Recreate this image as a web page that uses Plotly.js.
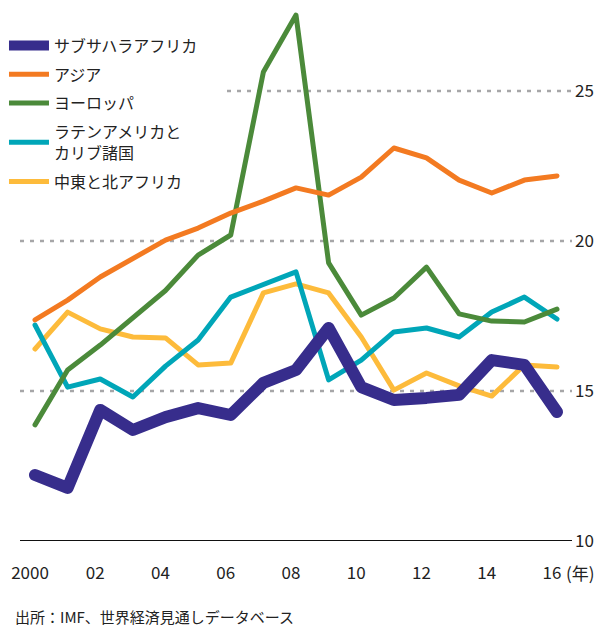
<!DOCTYPE html>
<html>
<head>
<meta charset="utf-8">
<script src="https://cdn.plot.ly/plotly-3.0.1.min.js"></script>
<style>
html,body{margin:0;padding:0;background:#fff;}
#chart{width:598px;height:629px;}
#chart .scatterlayer path.js-line{stroke-linecap:round !important;stroke-linejoin:round !important;}
</style>
</head>
<body>
<div id="chart"></div>
<script>
const years = [2000,2001,2002,2003,2004,2005,2006,2007,2008,2009,2010,2011,2012,2013,2014,2015,2016];
const tickLabels = ["2000","02","04","06","08","10","12","14","16"];
const tickYears = [2000,2002,2004,2006,2008,2010,2012,2014,2016];

const seriesNames = ["サブサハラアフリカ","アジア","ヨーロッパ","ラテンアメリカと<br>カリブ諸国","中東と北アフリカ"];
const subSaharan = [12.2,11.77,14.37,13.7,14.13,14.43,14.2,15.27,15.7,17.1,15.13,14.7,14.77,14.87,16.03,15.87,14.3];
const asia       = [17.37,18.03,18.8,19.4,20.03,20.43,20.93,21.33,21.77,21.53,22.13,23.1,22.77,22.03,21.6,22.03,22.17];
const europe     = [13.87,15.7,16.53,17.43,18.35,19.53,20.2,25.63,27.53,19.27,17.53,18.1,19.13,17.57,17.33,17.3,17.73];
const latinAm    = [17.2,15.13,15.4,14.8,15.83,16.7,18.13,18.53,18.97,15.37,16.03,16.97,17.1,16.8,17.63,18.13,17.4];
const mena       = [16.4,17.63,17.07,16.8,16.77,15.87,15.93,18.27,18.57,18.27,16.8,15.03,15.6,15.17,14.83,15.87,15.8];

const yTicks = [10,15,20,25];
const gridValues = [15,20,25];

const font = "'Noto Sans CJK JP', 'Noto Sans', sans-serif";

function tr(name, y, color, width, rank){
  return {x: years, y: y, name: name, type: 'scatter', mode: 'lines', legendrank: rank,
          legendgroup: 'g' + rank,
          line: {color: color, width: width, shape: 'linear'}, hoverinfo: 'skip'};
}

const data = [
  tr(seriesNames[4], mena, '#fdbb3b', 5, 5),
  tr(seriesNames[3], latinAm, '#00a6b8', 5, 4),
  tr(seriesNames[2], europe, '#4b8a3a', 5, 3),
  tr(seriesNames[1], asia, '#f37a21', 5, 2),
  tr(seriesNames[0], subSaharan, '#372d8c', 12, 1)
];

const shapes = gridValues.map(v => ({
  type: 'line', xref: 'paper', yref: 'y',
  x0: v === 25 ? 0.375 : 0, x1: 1, y0: v, y1: v,
  line: {color: '#a6a6a8', width: 2.5, dash: '4px,6px'}, layer: 'below'
}));
shapes.push({type:'line', xref:'paper', yref:'y', x0:0, x1:1, y0:10, y1:10,
  line:{color:'#111', width:2}});

const layout = {
  width: 598, height: 629,
  margin: {l: 20, r: 26, t: 10, b: 88, autoexpand: false},
  paper_bgcolor: '#fff', plot_bgcolor: '#fff',
  font: {family: font, color: '#222', size: 16},
  showlegend: true,
  legend: {
    traceorder: 'grouped', x: -0.029, y: 0.965, xref: 'paper', yref: 'paper',
    xanchor: 'left', yanchor: 'top', bgcolor: 'rgba(0,0,0,0)',
    font: {family: font, size: 16, color: '#222'}, itemwidth: 40, tracegroupgap: 5
  },
  xaxis: {
    range: [1999.54, 2016.46], showgrid: false, zeroline: false, showline: false,
    tickmode: 'array', tickvals: tickYears, ticktext: tickLabels,
    ticks: '', ticklabelstandoff: 20, ticklabelshift: -5,
    tickfont: {family: font, size: 17, color: '#222'}
  },
  yaxis: {
    range: [10, 27.7], side: 'right', showgrid: false, zeroline: false, showline: false,
    tickmode: 'array', tickvals: yTicks, ticktext: yTicks.map(String),
    ticks: '', ticklabelstandoff: 2,
    tickfont: {family: font, size: 17, color: '#222'}
  },
  shapes: shapes,
  annotations: [
    {text: '(年)', xref: 'paper', yref: 'paper', x: 1.045, y: -0.06, xanchor: 'right', yanchor: 'middle',
     showarrow: false, font: {family: font, size: 17, color: '#222'}},
    {text: '出所：IMF、世界経済見通しデータベース', xref: 'paper', yref: 'paper', x: -0.013, y: -0.143,
     xanchor: 'left', yanchor: 'middle', showarrow: false, font: {family: font, size: 15, color: '#222'}}
  ]
};

Plotly.newPlot('chart', data, layout, {displayModeBar: false, staticPlot: true});
</script>
</body>
</html>
